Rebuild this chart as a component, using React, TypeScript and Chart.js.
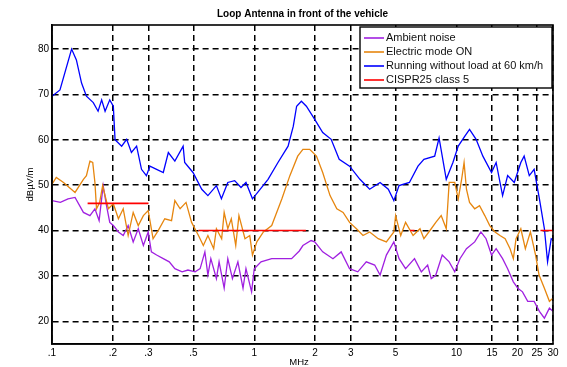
import React, { useEffect, useRef } from "react";
import { Chart, registerables } from "chart.js";
Chart.register(...registerables);

const chartTitle = "Loop Antenna in front of the vehicle";
const xAxisLabel = "MHz";
const yAxisLabel = "dBµV/m";
const xTicks = [0.1, 0.2, 0.3, 0.5, 1, 2, 3, 5, 10, 15, 20, 25, 30];
const xTickLabels = [".1", ".2", ".3", ".5", "1", "2", "3", "5", "10", "15", "20", "25", "30"];
const yTicks = [20, 30, 40, 50, 60, 70, 80];

const seriesNames = ["Ambient noise", "Electric mode ON", "Running without load at 60 km/h", "CISPR25 class 5"];
const seriesColors = ["#a020e0", "#e6860f", "#0000ff", "#ff0000"];

const ambientF = [0.1, 0.11, 0.12, 0.13, 0.143, 0.154, 0.163, 0.171, 0.179, 0.186, 0.193, 0.201, 0.213, 0.225, 0.238, 0.252, 0.267, 0.283, 0.299, 0.31, 0.329, 0.355, 0.38, 0.405, 0.44, 0.47, 0.51, 0.54, 0.57, 0.59, 0.61, 0.65, 0.67, 0.71, 0.74, 0.78, 0.83, 0.88, 0.91, 0.97, 1.0, 1.08, 1.22, 1.37, 1.53, 1.67, 1.74, 1.91, 1.99, 2.18, 2.45, 2.69, 2.96, 3.25, 3.58, 3.94, 4.19, 4.5, 4.9, 5.2, 5.6, 6.2, 6.7, 7.2, 7.5, 7.9, 8.5, 9.2, 9.8, 10.4, 11.2, 12.3, 13.2, 14.0, 14.9, 15.7, 16.9, 17.9, 19.1, 20.1, 21.2, 22.5, 24.2, 25.7, 27.2, 28.8, 30];
const ambientV = [46.6, 46.2, 47, 47.3, 44, 43.3, 44.8, 42.2, 49.9, 45.5, 41.8, 41.1, 39.7, 38.9, 41.1, 37.5, 40.4, 36.7, 39.7, 35.3, 34.6, 33.8, 33.1, 31.6, 30.9, 31.3, 30.9, 31.6, 35.3, 30.2, 33.8, 29.4, 33.1, 27.3, 33.8, 29.4, 33.1, 27.3, 31.6, 26.5, 31.6, 33.1, 33.8, 33.8, 33.8, 35.5, 36.7, 37.8, 37.5, 35.3, 33.8, 35.3, 31.6, 30.9, 33.1, 32.4, 30.2, 34.6, 37.5, 33.8, 31.6, 33.8, 30.9, 32.4, 29.4, 30.2, 34.6, 33.1, 30.9, 33.8, 36, 37.5, 39.7, 38.2, 34.6, 36, 33.8, 31.6, 28.7, 27.3, 26.5, 24.4, 24.4, 22.2, 20.7, 22.9, 22.2];

const electricF = [0.1, 0.105, 0.114, 0.13, 0.143, 0.148, 0.154, 0.159, 0.163, 0.166, 0.172, 0.178, 0.183, 0.19, 0.201, 0.213, 0.225, 0.238, 0.252, 0.267, 0.283, 0.299, 0.316, 0.335, 0.361, 0.39, 0.405, 0.43, 0.46, 0.49, 0.53, 0.56, 0.59, 0.63, 0.65, 0.69, 0.71, 0.74, 0.77, 0.81, 0.84, 0.9, 0.95, 0.98, 1.03, 1.11, 1.22, 1.37, 1.5, 1.64, 1.74, 1.88, 2.03, 2.18, 2.37, 2.56, 2.75, 2.96, 3.2, 3.45, 3.72, 4.1, 4.5, 4.9, 5.0, 5.3, 5.6, 6.1, 6.6, 6.9, 7.5, 7.9, 8.4, 8.9, 9.2, 9.8, 10.2, 10.6, 10.9, 11.2, 11.6, 12.3, 13.0, 13.8, 14.6, 15.5, 16.4, 17.4, 18.4, 19.1, 19.7, 20.8, 21.9, 23.2, 24.6, 25.6, 27.2, 28.8, 30];
const electricV = [50.2, 51.7, 50.6, 48.4, 51.3, 52.1, 55.3, 55, 50.6, 44.8, 46.2, 49.9, 47.7, 44.8, 45.9, 42.6, 44.8, 38.9, 44, 41.1, 43.3, 44.4, 38.2, 40, 42.6, 42.2, 46.6, 44.8, 46.2, 41.8, 38.9, 36.7, 38.9, 36, 40.4, 38.2, 44, 40.4, 42.6, 36.7, 43.3, 38.2, 38.9, 34.6, 37.5, 39.7, 41.1, 47, 52.1, 56.4, 57.9, 57.9, 56.4, 52.8, 47.7, 44.8, 44, 41.8, 40.4, 38.9, 39.7, 38.2, 37.5, 39.7, 43.3, 38.9, 41.8, 38.9, 40.4, 38.2, 40.4, 41.8, 43.3, 40.4, 50.6, 50.6, 47, 51.3, 55, 49.1, 46.2, 44.8, 45.5, 43.3, 41.1, 39.7, 38.9, 38.2, 36, 33.8, 38.2, 40.4, 36, 39.7, 34.6, 30.2, 27.3, 24.4, 25.1];

const runningF = [0.1, 0.1095, 0.125, 0.132, 0.14, 0.148, 0.16, 0.169, 0.176, 0.183, 0.193, 0.201, 0.205, 0.221, 0.234, 0.247, 0.262, 0.277, 0.293, 0.305, 0.329, 0.355, 0.376, 0.405, 0.445, 0.453, 0.498, 0.55, 0.59, 0.65, 0.688, 0.74, 0.8, 0.86, 0.91, 0.98, 1.04, 1.17, 1.31, 1.47, 1.56, 1.62, 1.71, 1.81, 1.99, 2.18, 2.4, 2.63, 2.96, 3.33, 3.72, 4.19, 4.6, 4.9, 5.2, 5.85, 6.45, 6.9, 7.8, 8.2, 8.9, 9.6, 10.2, 11.0, 11.6, 12.5, 13.5, 14.9, 15.7, 16.9, 17.9, 19.3, 20.8, 21.6, 22.9, 24.2, 25.7, 27.2, 28.2, 29.4, 30];
const runningV = [69.6, 71, 80, 77.6, 72.5, 69.6, 68.2, 66.3, 68.8, 66.3, 68.8, 67.4, 60, 58.6, 60.1, 57.2, 58.6, 53.5, 52.1, 54.2, 53.5, 52.8, 57.2, 55.3, 58.6, 55, 52.8, 49.1, 47.7, 49.9, 47, 50.6, 51, 49.5, 50.6, 47, 48.4, 51.3, 55, 58.6, 63, 67.4, 68.5, 67.4, 64.5, 61.6, 60.1, 55.7, 54.2, 51.3, 49.1, 50.6, 49.1, 46.6, 49.9, 50.6, 54.2, 55.7, 56.4, 60.4, 51.3, 55, 58.6, 60.8, 62.3, 60.1, 56.4, 52.8, 55, 47.7, 52.1, 50.6, 55, 56.4, 52.1, 53.5, 47, 40.4, 33.1, 38.2, 38];

const limitStart = [0.15, 0.53, 5.9, 26];
const limitEnd = [0.3, 1.8, 6.2, 30];
const limitLevel = [46, 40, 40, 40];

const FONT = "'Liberation Sans', Arial, Helvetica, sans-serif";

function pts(f: number[], v: number[]) {
  return f.map((x, i) => ({ x, y: v[i] }));
}

function limitPts() {
  const out: { x: number; y: number | null }[] = [];
  limitStart.forEach((s, i) => {
    out.push({ x: s, y: limitLevel[i] });
    out.push({ x: limitEnd[i], y: limitLevel[i] });
    if (i < limitStart.length - 1) out.push({ x: (limitEnd[i] + limitStart[i + 1]) / 2, y: null });
  });
  return out;
}

const overlay = {
  id: "overlay",
  afterDraw(chart: any) {
    const { ctx, chartArea: a } = chart;
    ctx.save();
    ctx.setLineDash([]);
    ctx.strokeStyle = "#000";
    ctx.lineWidth = 1.6;
    ctx.strokeRect(a.left, a.top, a.right - a.left, a.bottom - a.top);

    ctx.fillStyle = "#000";
    ctx.font = `bold 10px ${FONT}`;
    ctx.textAlign = "center";
    ctx.textBaseline = "middle";
    ctx.fillText(chartTitle, (a.left + a.right) / 2, 14);

    ctx.font = `9.5px ${FONT}`;
    ctx.fillText(xAxisLabel, 299, 362);
    ctx.save();
    ctx.translate(30, (a.top + a.bottom) / 2);
    ctx.rotate(-Math.PI / 2);
    ctx.fillText(yAxisLabel, 0, 0);
    ctx.restore();

    // legend
    const lx = 360, ly = 27, lw = a.right - 1 - lx, lh = 61;
    ctx.fillStyle = "#fff";
    ctx.fillRect(lx, ly, lw, lh);
    ctx.strokeStyle = "#000";
    ctx.lineWidth = 1.4;
    ctx.strokeRect(lx, ly, lw, lh);
    ctx.font = `11px ${FONT}`;
    ctx.textAlign = "left";
    seriesNames.forEach((name, i) => {
      const y = 38 + i * 14;
      ctx.strokeStyle = seriesColors[i];
      ctx.lineWidth = 1.6;
      ctx.beginPath();
      ctx.moveTo(364, y);
      ctx.lineTo(384, y);
      ctx.stroke();
      ctx.fillStyle = "#111";
      ctx.fillText(name, 386, y);
    });
    ctx.restore();
  },
};

export default function App() {
  const ref = useRef<HTMLCanvasElement | null>(null);
  useEffect(() => {
    if (!ref.current) return;
    const mk = (i: number, data: any[], order: number) => ({
      label: seriesNames[i],
      data,
      borderColor: seriesColors[i],
      backgroundColor: seriesColors[i],
      borderWidth: i === 3 ? 1.6 : 1.3,
      pointRadius: 0,
      tension: 0,
      spanGaps: false,
      order,
    });
    const chart = new Chart(ref.current, {
      type: "line",
      data: {
        datasets: [
          mk(0, pts(ambientF, ambientV), 3),
          mk(1, pts(electricF, electricV), 2),
          mk(2, pts(runningF, runningV), 1),
          mk(3, limitPts(), 0),
        ],
      },
      options: {
        animation: false,
        responsive: false,
        layout: { padding: { top: 25, right: 14, left: 0, bottom: 0 } },
        plugins: { legend: { display: false }, title: { display: false }, tooltip: { enabled: false } },
        scales: {
          x: {
            type: "logarithmic",
            min: 0.1,
            max: 30,
            afterBuildTicks: (s: any) => {
              s.ticks = xTicks.map((v) => ({ value: v }));
            },
            afterFit: (s: any) => {
              s.height = 23;
            },
            ticks: {
              autoSkip: false,
              maxRotation: 0,
              padding: 3,
              color: "#000",
              font: { size: 10, family: FONT },
              callback: (v: any) => {
                const i = xTicks.indexOf(Number(v));
                return i >= 0 ? xTickLabels[i] : "";
              },
            },
            grid: { color: "#000", lineWidth: 1.5, drawTicks: false },
            border: { display: true, color: "#000", width: 1.6, dash: [6, 4] },
          },
          y: {
            type: "linear",
            min: 15,
            max: 85.3,
            afterBuildTicks: (s: any) => {
              s.ticks = yTicks.map((v) => ({ value: v }));
            },
            afterFit: (s: any) => {
              s.width = 52;
            },
            ticks: { padding: 3, color: "#000", font: { size: 10, family: FONT } },
            grid: { color: "#000", lineWidth: 1.5, drawTicks: false },
            border: { display: true, color: "#000", width: 1.6, dash: [6, 4] },
          },
        },
      },
      plugins: [overlay],
    });
    return () => chart.destroy();
  }, []);
  return (
    <div style={{ position: "fixed", left: 0, top: 0, width: 567, height: 367, background: "#fff" }}>
      <canvas ref={ref} width={567} height={367} />
    </div>
  );
}
